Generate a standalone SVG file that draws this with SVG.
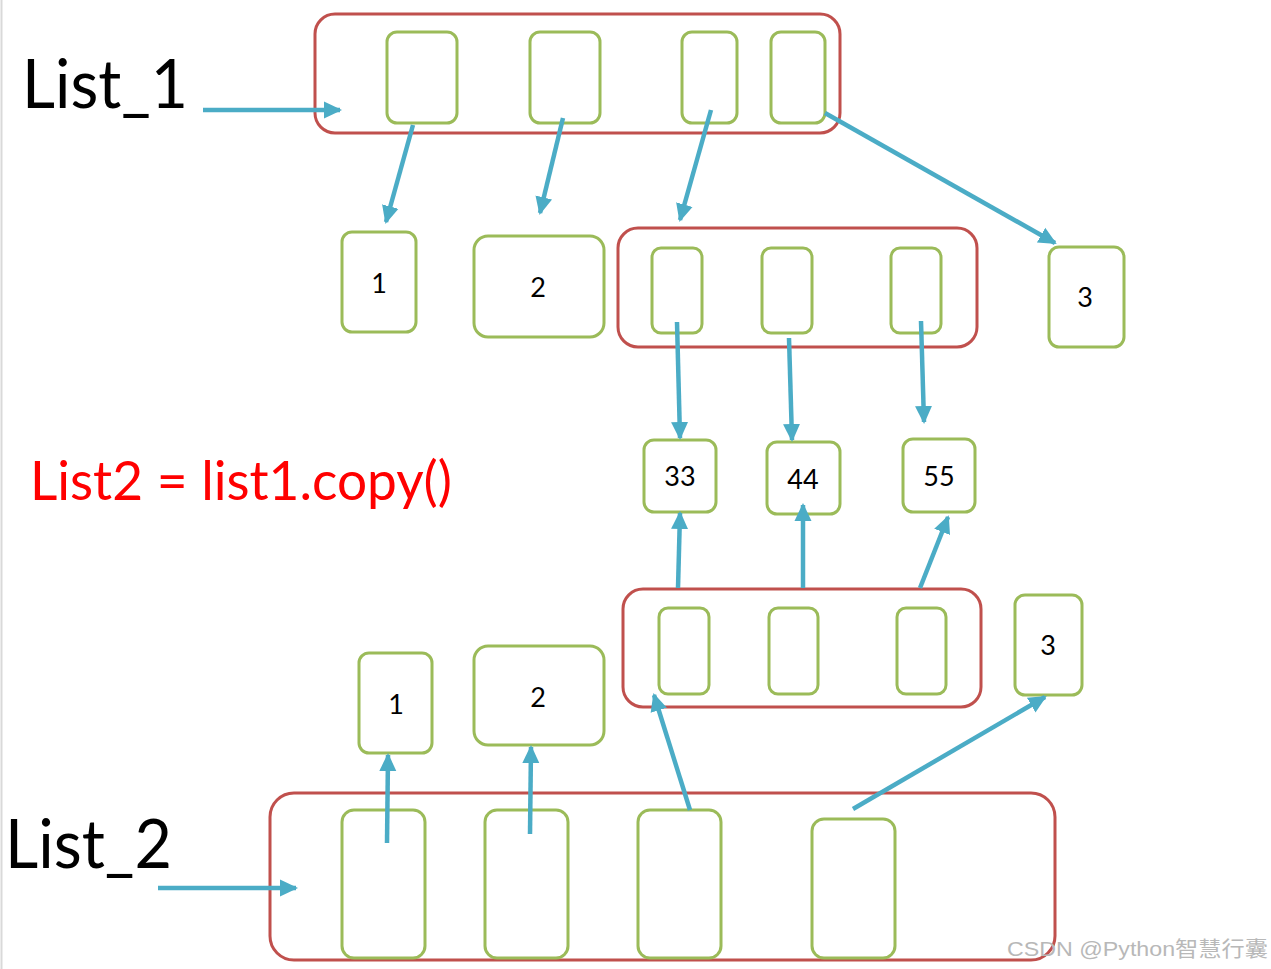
<svg xmlns="http://www.w3.org/2000/svg" width="1271" height="969" viewBox="0 0 1271 969">
<style>
.outer{fill:none;stroke:#c0504d;stroke-width:3}
.cell{fill:#fff;stroke:#9bbb59;stroke-width:3}
.conn{stroke:#4bacc6;stroke-width:4.5;fill:none;marker-end:url(#ah)}
.lbl{font-family:Lato,"Open Sans","Liberation Sans",sans-serif;fill:#000}
.num{font-family:Lato,"Open Sans","Liberation Sans",sans-serif;font-size:27px;fill:#000;text-anchor:middle}
</style>
<defs>
<marker id="ah" markerUnits="userSpaceOnUse" markerWidth="20" markerHeight="20" viewBox="0 0 20 20" refX="16" refY="10" orient="auto">
<path d="M0,1.5 L18,10 L0,18.5 Z" fill="#4bacc6"/>
</marker>
</defs>
<rect width="1271" height="969" fill="#fff"/>
<line x1="1.5" y1="0" x2="1.5" y2="969" stroke="#d9d9d9" stroke-width="2"/>

<g id="list1-label"><text class="lbl" x="22" y="108" font-size="68" textLength="166" lengthAdjust="spacingAndGlyphs">List_1</text></g>
<g id="list2-label"><text class="lbl" x="5" y="868" font-size="68" textLength="167" lengthAdjust="spacingAndGlyphs">List_2</text></g>
<g id="copy-label"><text x="30" y="500" font-family="Lato,'Open Sans','Liberation Sans',sans-serif" font-size="54" fill="#ff0000" textLength="422" lengthAdjust="spacingAndGlyphs">List2 = list1.copy()</text></g>

<g id="list1">
<rect class="outer" x="315" y="14" width="525" height="119" rx="20"/>
<rect class="cell" x="387" y="32" width="70" height="91" rx="10"/>
<rect class="cell" x="530" y="32" width="70" height="91" rx="10"/>
<rect class="cell" x="682" y="32" width="55" height="91" rx="10"/>
<rect class="cell" x="771" y="32" width="54" height="91" rx="10"/>
</g>

<g id="val1-top"><rect class="cell" x="342" y="232" width="74" height="100" rx="10"/><text class="num" x="379" y="293">1</text></g>
<g id="val2-top"><rect class="cell" x="474" y="236" width="130" height="101" rx="14"/><text class="num" x="538" y="297">2</text></g>
<g id="inner-top">
<rect class="outer" x="618" y="228" width="359" height="119" rx="20"/>
<rect class="cell" x="652" y="248" width="50" height="85" rx="9"/>
<rect class="cell" x="762" y="248" width="50" height="85" rx="9"/>
<rect class="cell" x="891" y="248" width="50" height="85" rx="9"/>
</g>
<g id="val3-top"><rect class="cell" x="1049" y="247" width="75" height="100" rx="10"/><text class="num" x="1085" y="307">3</text></g>

<g id="val33"><rect class="cell" x="644" y="440" width="72" height="72" rx="10"/><text class="num" x="680" y="486">33</text></g>
<g id="val44"><rect class="cell" x="767" y="442" width="73" height="72" rx="10"/><text class="num" x="803" y="489">44</text></g>
<g id="val55"><rect class="cell" x="903" y="439" width="72" height="73" rx="10"/><text class="num" x="939" y="486">55</text></g>

<g id="inner-bottom">
<rect class="outer" x="623" y="589" width="358" height="118" rx="20"/>
<rect class="cell" x="659" y="608" width="50" height="86" rx="9"/>
<rect class="cell" x="769" y="608" width="49" height="86" rx="9"/>
<rect class="cell" x="897" y="608" width="49" height="86" rx="9"/>
</g>
<g id="val3-bottom"><rect class="cell" x="1015" y="595" width="67" height="100" rx="10"/><text class="num" x="1048" y="655">3</text></g>
<g id="val1-bottom"><rect class="cell" x="359" y="653" width="73" height="100" rx="10"/><text class="num" x="396" y="714">1</text></g>
<g id="val2-bottom"><rect class="cell" x="474" y="646" width="130" height="99" rx="14"/><text class="num" x="538" y="707">2</text></g>

<g id="list2">
<rect class="outer" x="270" y="793" width="785" height="167" rx="24"/>
<rect class="cell" x="342" y="810" width="83" height="148" rx="12"/>
<rect class="cell" x="485" y="810" width="83" height="148" rx="12"/>
<rect class="cell" x="638" y="810" width="83" height="148" rx="12"/>
<rect class="cell" x="812" y="819" width="83" height="139" rx="12"/>
</g>

<g id="connectors">
<line class="conn" x1="203" y1="110" x2="340" y2="110"/>
<line class="conn" x1="413" y1="125" x2="386" y2="222"/>
<line class="conn" x1="563" y1="118" x2="540" y2="213"/>
<line class="conn" x1="711" y1="110" x2="680" y2="220"/>
<line class="conn" x1="825" y1="113" x2="1055" y2="243"/>
<line class="conn" x1="677" y1="322" x2="680" y2="438"/>
<line class="conn" x1="789" y1="338" x2="792" y2="440"/>
<line class="conn" x1="921" y1="321" x2="924" y2="422"/>
<line class="conn" x1="678" y1="588" x2="680" y2="513"/>
<line class="conn" x1="803" y1="588" x2="803" y2="505"/>
<line class="conn" x1="920" y1="588" x2="948" y2="517"/>
<line class="conn" x1="387" y1="843" x2="388" y2="755"/>
<line class="conn" x1="530" y1="834" x2="531" y2="747"/>
<line class="conn" x1="690" y1="810" x2="654" y2="695"/>
<line class="conn" x1="853" y1="809" x2="1045" y2="697"/>
<line class="conn" x1="158" y1="888" x2="296" y2="888"/>
</g>

<g id="watermark"><text x="1007" y="956" font-family="'Liberation Sans','Noto Sans CJK SC',sans-serif" font-size="21" fill="#b8b8b8" textLength="261" lengthAdjust="spacingAndGlyphs">CSDN @Python智慧行囊</text></g>
</svg>
